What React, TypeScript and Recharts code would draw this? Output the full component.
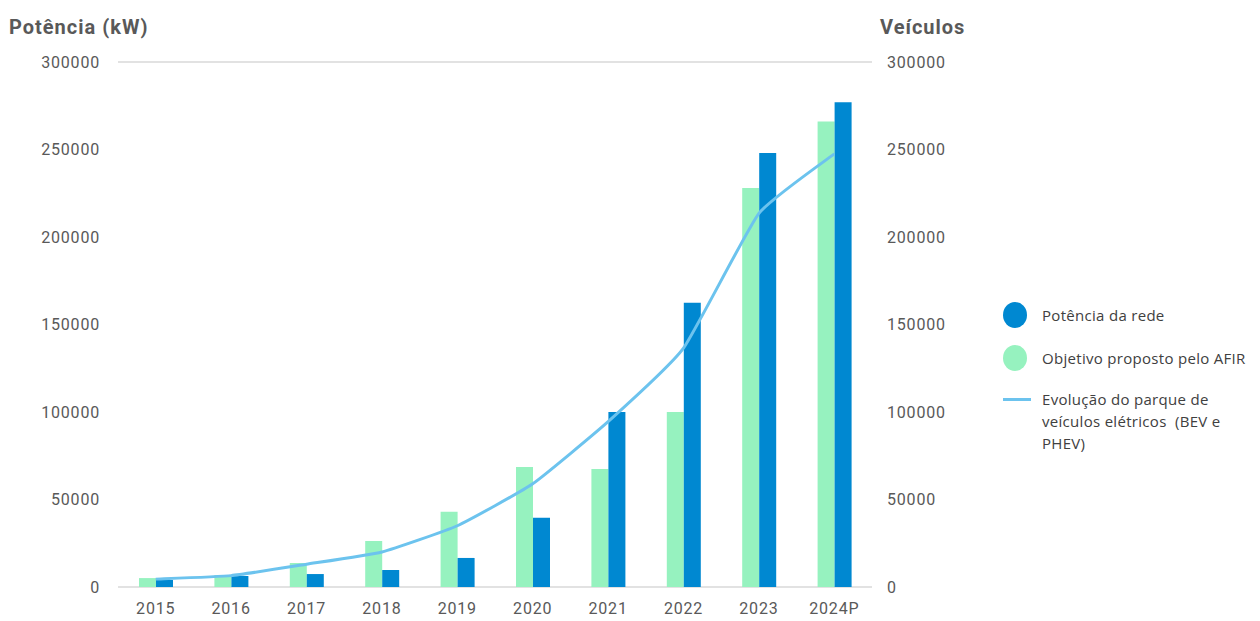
import React from "react";
import {
  ComposedChart,
  Bar,
  Line,
  XAxis,
  YAxis,
  CartesianGrid,
} from "recharts";

const years = ["2015", "2016", "2017", "2018", "2019", "2020", "2021", "2022", "2023", "2024P"];
// Objetivo proposto pelo AFIR (kW)
const afirTarget = [5100, 6800, 13700, 26300, 43000, 68600, 67400, 100000, 228000, 266000];
// Potência da rede (kW)
const networkPower = [4000, 6300, 7400, 9700, 16600, 39600, 100000, 162500, 248000, 277000];
// Evolução do parque de veículos elétricos (BEV e PHEV)
const evFleet = [4500, 6500, 13000, 20000, 35000, 59000, 94500, 136500, 213500, 247500];
const yTicks = [0, 50000, 100000, 150000, 200000, 250000, 300000];

const data = years.map((year, i) => ({
  year,
  afir: afirTarget[i],
  power: networkPower[i],
  fleet: evFleet[i],
}));

const GREEN = "#96f2bf";
const BLUE = "#0088d1";
const LINE = "#6cc3ee";
const TEXT = "#595959";

const tickStyle = {
  fill: TEXT,
  fontSize: 16,
  fontFamily: "Roboto, sans-serif",
  letterSpacing: 0.8,
};

// lightly smoothed line, like the spreadsheet one (low-tension catmull-rom)
const SMOOTH = 14;
function smoothCurve(context: any) {
  let pts: [number, number][] = [];
  return {
    areaStart() {},
    areaEnd() {},
    lineStart() {
      pts = [];
    },
    point(x: number, y: number) {
      pts.push([+x, +y]);
    },
    lineEnd() {
      if (!pts.length) return;
      context.moveTo(pts[0][0], pts[0][1]);
      for (let i = 0; i < pts.length - 1; i++) {
        const p0 = pts[Math.max(i - 1, 0)];
        const p1 = pts[i];
        const p2 = pts[i + 1];
        const p3 = pts[Math.min(i + 2, pts.length - 1)];
        context.bezierCurveTo(
          p1[0] + (p2[0] - p0[0]) / SMOOTH,
          p1[1] + (p2[1] - p0[1]) / SMOOTH,
          p2[0] - (p3[0] - p1[0]) / SMOOTH,
          p2[1] - (p3[1] - p1[1]) / SMOOTH,
          p2[0],
          p2[1]
        );
      }
    },
  };
}

function ChartLegend() {
  const text: React.CSSProperties = {
    fontFamily: "'Open Sans', sans-serif",
    fontSize: 15,
    letterSpacing: 0.3,
    color: "#404040",
    lineHeight: "22px",
    whiteSpace: "nowrap",
  };
  return (
    <div style={{ position: "absolute", left: 1003, top: 302 }}>
      <div style={{ display: "flex", alignItems: "center", height: 26 }}>
        <span style={{ width: 24, height: 26, borderRadius: "50%", background: BLUE, display: "inline-block" }} />
        <span style={{ ...text, marginLeft: 15 }}>Potência da rede</span>
      </div>
      <div style={{ display: "flex", alignItems: "center", height: 26, marginTop: 17 }}>
        <span style={{ width: 24, height: 26, borderRadius: "50%", background: GREEN, display: "inline-block" }} />
        <span style={{ ...text, marginLeft: 15 }}>Objetivo proposto pelo AFIR</span>
      </div>
      <div style={{ display: "flex", alignItems: "flex-start", marginTop: 17 }}>
        <span style={{ width: 28, height: 3, background: LINE, display: "inline-block", marginTop: 10 }} />
        <span style={{ ...text, marginLeft: 11 }}>
          Evolução do parque de
          <br />
          veículos elétricos&nbsp; (BEV e
          <br />
          PHEV)
        </span>
      </div>
    </div>
  );
}

const titleStyle: React.CSSProperties = {
  position: "absolute",
  top: 15,
  fontFamily: "Roboto, sans-serif",
  fontWeight: 700,
  fontSize: 20,
  letterSpacing: 1,
  color: TEXT,
};

export default function App() {
  return (
    <div style={{ position: "relative", width: 1260, height: 621, overflow: "hidden", background: "#fff" }}>
      <style>{`body{margin:0}`}</style>
      <div style={{ ...titleStyle, left: 9 }}>Potência (kW)</div>
      <div style={{ ...titleStyle, left: 880 }}>Veículos</div>
      <ComposedChart
        width={1260}
        height={621}
        data={data}
        margin={{ top: 62, right: 278, bottom: 0, left: 0 }}
        barGap={0}
        barSize={17}
      >
        <CartesianGrid vertical={false} stroke="#d9d9d9" strokeWidth={1.5} />
        <XAxis
          dataKey="year"
          height={34}
          axisLine={false}
          tickLine={false}
          tickSize={0}
          tickMargin={16}
          tick={tickStyle}
        />
        <YAxis
          yAxisId="left"
          width={118}
          domain={[0, 300000]}
          ticks={yTicks}
          axisLine={false}
          tickLine={false}
          tickSize={0}
          tickMargin={18}
          tick={tickStyle}
        />
        <YAxis
          yAxisId="right"
          orientation="right"
          width={110}
          domain={[0, 300000]}
          ticks={yTicks}
          axisLine={false}
          tickLine={false}
          tickSize={0}
          tickMargin={15}
          tick={tickStyle}
        />
        <Bar yAxisId="left" dataKey="afir" fill={GREEN} isAnimationActive={false} />
        <Bar yAxisId="left" dataKey="power" fill={BLUE} isAnimationActive={false} />
        <Line
          yAxisId="right"
          type={smoothCurve as any}
          dataKey="fleet"
          stroke={LINE}
          strokeWidth={3}
          dot={false}
          isAnimationActive={false}
        />
      </ComposedChart>
      <ChartLegend />
    </div>
  );
}
